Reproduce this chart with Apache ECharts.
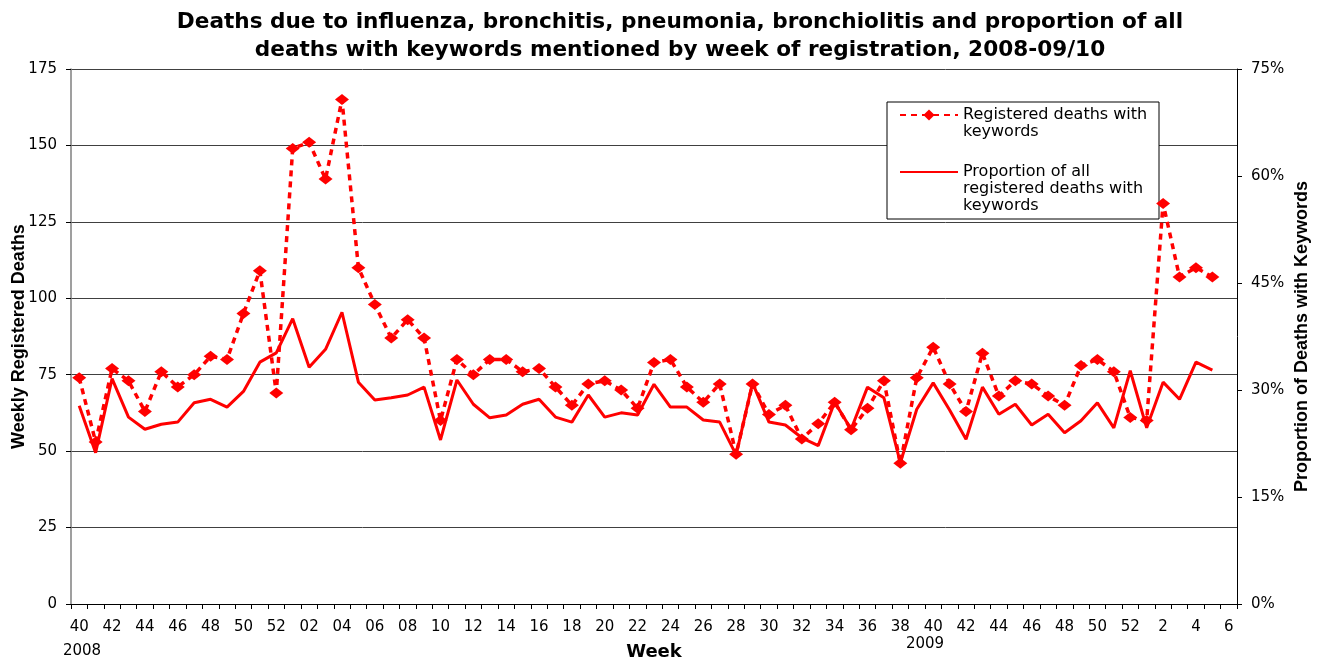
<!DOCTYPE html>
<html>
<head>
<meta charset="utf-8">
<script src="https://cdn.jsdelivr.net/npm/echarts@6/dist/echarts.min.js"></script>
<style>
html,body{margin:0;padding:0;background:#fff;}
#chart{width:1317px;height:659px;}
</style>
</head>
<body>
<div id="chart"></div>
<script>
// Week categories (2008 wk40-52, 2009 wk01-52, 2010 wk1-6)
var weeks2008 = ['40','41','42','43','44','45','46','47','48','49','50','51','52'];
var weeks2009 = ['01','02','03','04','05','06','07','08','09','10','11','12','13','14','15','16','17','18','19','20','21','22','23','24','25','26','27','28','29','30','31','32','33','34','35','36','37','38','39','40','41','42','43','44','45','46','47','48','49','50','51','52'];
var weeks2010 = ['1','2','3','4','5','6'];

// Registered deaths with keywords
var deaths2008 = [74,53,77,73,63,76,71,75,81,80,95,109,69];
var deaths2009 = [149,151,139,165,110,98,87,93,87,60,80,75,80,80,76,77,71,65,72,73,70,64,79,80,71,66,72,49,72,62,65,54,59,66,57,64,73,46,74,84,72,63,82,68,73,72,68,65,78,80,76,61];
var deaths2010 = [60,131,107,110,107,null];

// Proportion of all registered deaths with keywords (%)
var prop2008 = [27.8,21.2,31.6,26.2,24.5,25.2,25.5,28.2,28.7,27.6,29.8,33.9,35.2];
var prop2009 = [40.0,33.2,35.7,40.9,31.1,28.6,28.9,29.3,30.4,23.0,31.4,28.0,26.1,26.5,28.0,28.7,26.2,25.5,29.3,26.2,26.8,26.5,30.8,27.6,27.6,25.8,25.5,20.9,31.0,25.5,25.1,23.3,22.2,28.3,24.5,30.4,28.9,19.8,27.3,31.0,27.2,23.1,30.4,26.6,28.0,25.1,26.6,24.0,25.7,28.2,24.7,32.7];
var prop2010 = [24.7,31.1,28.7,33.9,32.8,null];

var leftTicks = {min: 0, max: 175, interval: 25};
var rightTicks = {min: 0, max: 75, interval: 15};

var seriesNames = ['Registered deaths with keywords', 'Proportion of all registered deaths with keywords'];
// leading blank lines keep the first text line level with the legend icon
var legendLabels = ['\nRegistered deaths with\nkeywords', '\n\nProportion of all\nregistered deaths with\nkeywords'];
var yearLabels = ['2008', '2009'];

var categories = weeks2008.concat(weeks2009, weeks2010);
var deaths = deaths2008.concat(deaths2009, deaths2010);
var prop = prop2008.concat(prop2009, prop2010);

var RED = '#ff0000';
var F = 'DejaVu Sans';
var FA = '"Liberation Sans", Arial';

var chart = echarts.init(document.getElementById('chart'), null, {renderer: 'canvas'});
chart.setOption({
  animation: false,
  backgroundColor: '#fff',
  title: {
    text: 'Deaths due to influenza, bronchitis, pneumonia, bronchiolitis and proportion of all\ndeaths with keywords mentioned by week of registration, 2008-09/10',
    left: 680, top: 8, padding: 0, textAlign: 'center',
    textStyle: {fontFamily: F, fontWeight: 'bold', fontSize: 21.6, lineHeight: 28, color: '#000'}
  },
  grid: {left: 71, right: 80, top: 69, bottom: 55, outerBoundsMode: 'none', containLabel: false},
  legend: {
    orient: 'vertical', left: 899, top: 89.5, padding: 0,
    itemWidth: 58, itemHeight: 14, itemGap: -11, selectedMode: false,
    textStyle: {color: '#000', fontFamily: F, fontSize: 16, lineHeight: 17},
    data: [
      {name: seriesNames[0]},
      {name: seriesNames[1], itemStyle: {opacity: 0}}
    ],
    formatter: function (n) { return legendLabels[seriesNames.indexOf(n)]; }
  },
  xAxis: {
    type: 'category', data: categories, boundaryGap: true,
    name: 'Week', nameLocation: 'middle', nameGap: 39, nameMoveOverlap: false,
    nameTextStyle: {fontFamily: F, fontWeight: 'bold', fontSize: 18, color: '#000'},
    axisLine: {show: true, lineStyle: {color: '#000', width: 1}},
    axisTick: {show: true, interval: 0, length: 5, lineStyle: {color: '#000'}},
    axisLabel: {interval: 1, color: '#000', fontFamily: F, fontSize: 15, margin: 16},
    splitLine: {show: false}
  },
  yAxis: [
    {
      type: 'value', min: leftTicks.min, max: leftTicks.max, interval: leftTicks.interval,
      name: 'Weekly Registered Deaths', nameLocation: 'middle', nameGap: 43, nameRotate: 90, nameMoveOverlap: false,
      nameTextStyle: {fontFamily: FA, fontWeight: 'bold', fontSize: 18, color: '#000'},
      axisLine: {show: true, lineStyle: {color: '#7f7f7f', width: 1.5}},
      axisTick: {show: true, length: 5, lineStyle: {color: '#000'}},
      axisLabel: {color: '#000', fontFamily: F, fontSize: 15, margin: 14},
      splitLine: {show: true, lineStyle: {color: '#404040', width: 1}}
    },
    {
      type: 'value', position: 'right', min: rightTicks.min, max: rightTicks.max, interval: rightTicks.interval,
      name: 'Proportion of Deaths with Keywords', nameLocation: 'middle', nameGap: 56, nameRotate: 90, nameMoveOverlap: false,
      nameTextStyle: {fontFamily: FA, fontWeight: 'bold', fontSize: 18, color: '#000'},
      axisLine: {show: true, lineStyle: {color: '#000', width: 1}},
      axisTick: {show: true, length: 5, lineStyle: {color: '#000'}},
      axisLabel: {color: '#000', fontFamily: F, fontSize: 15, margin: 14, formatter: '{value}%'},
      splitLine: {show: false}
    }
  ],
  graphic: [
    {type: 'rect', z: 3, shape: {x: 887, y: 102, width: 272, height: 117},
     style: {fill: '#fff', stroke: '#000', lineWidth: 1}},
    {type: 'text', x: 82, y: 651, style: {text: yearLabels[0], font: '15px "DejaVu Sans"', fill: '#000', align: 'center', verticalAlign: 'middle'}},
    {type: 'text', x: 925, y: 644, style: {text: yearLabels[1], font: '15px "DejaVu Sans"', fill: '#000', align: 'center', verticalAlign: 'middle'}}
  ],
  series: [
    {
      name: seriesNames[0], type: 'line', data: deaths, yAxisIndex: 0,
      symbol: 'diamond', symbolSize: [14, 11], showAllSymbol: true,
      lineStyle: {color: RED, width: 3.5, type: [6, 5]},
      itemStyle: {color: RED},
      z: 5
    },
    {
      name: seriesNames[1], type: 'line', data: prop, yAxisIndex: 1,
      symbol: 'none',
      lineStyle: {color: RED, width: 3},
      itemStyle: {color: RED},
      z: 4
    }
  ]
});
</script>
</body>
</html>
